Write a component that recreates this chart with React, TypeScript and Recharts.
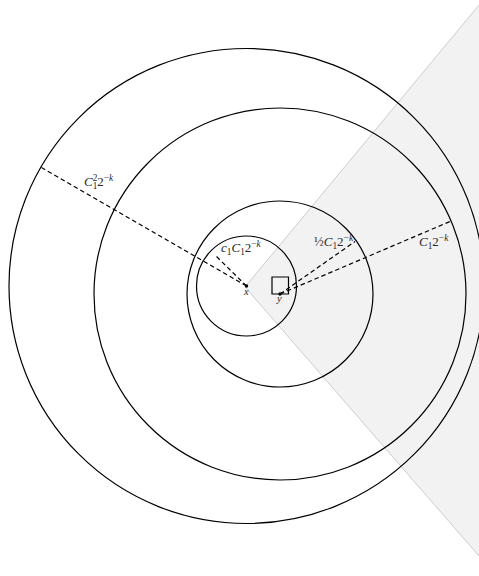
import React from 'react';
import {
  ComposedChart,
  Area,
  Scatter,
  XAxis,
  YAxis,
  ReferenceLine,
  ReferenceArea,
} from 'recharts';

// chart box, data units are 1:1 with pixels
const W = 479;
const H = 576;

// points x and y
const pointX = { x: 246.5, y: 286 };
const pointY = { x: 280, y: 294 };

// shaded cone from x
const cone = [
  { x: 245, band: [287, 287] },
  { x: 479, band: [5, 556] },
];

// balls: center + radius
const balls = [
  { x: pointX.x, y: pointX.y, r: 50 },
  { x: pointY.x, y: pointY.y, r: 93 },
  { x: pointY.x, y: pointY.y, r: 186 },
  { x: pointX.x, y: pointX.y, r: 237.5 },
];

// dashed radii
const radii = [
  { from: pointX, to: { x: 41.5, y: 167.5 } },
  { from: pointX, to: { x: 216, y: 256 } },
  { from: pointY, to: { x: 355, y: 241.5 } },
  { from: pointY, to: { x: 450, y: 221.5 } },
];

// small cube at y
const cube = { x1: 272, x2: 288.5, y1: 277, y2: 294 };

type Piece = { t: string; it?: boolean; pos?: 'sub' | 'sup'; back?: boolean };

const C1: Piece[] = [{ t: 'C', it: true }, { t: '1', pos: 'sub' }];
const TWO_K: Piece[] = [{ t: '2' }, { t: '\u2212', pos: 'sup' }, { t: 'k', it: true, pos: 'sup' }];

const labels = [
  {
    x: 84,
    y: 186,
    pieces: [{ t: 'C', it: true }, { t: '1', pos: 'sub' }, { t: '2', pos: 'sup', back: true }, ...TWO_K] as Piece[],
  },
  { x: 221, y: 252, pieces: [{ t: 'c', it: true }, { t: '1', pos: 'sub' }, ...C1, ...TWO_K] as Piece[] },
  { x: 314, y: 246, pieces: [{ t: '\u00BD' }, ...C1, ...TWO_K] as Piece[] },
  { x: 419, y: 246, pieces: [...C1, ...TWO_K] as Piece[] },
  { x: 244, y: 295, pieces: [{ t: 'x', it: true }] as Piece[], small: true },
  { x: 277, y: 302, pieces: [{ t: 'y', it: true }] as Piece[], small: true },
];

const FONT = '"Liberation Serif", "DejaVu Serif", serif';
const SIZE = 13;

function MathText({ x, y, pieces, size }: { x: number; y: number; pieces: Piece[]; size: number }) {
  let level = 0;
  const spans = pieces.map((p, i) => {
    const target = p.pos === 'sub' ? size * 0.25 : p.pos === 'sup' ? -size * 0.42 : 0;
    const dy = target - level;
    level = target;
    const fs = p.pos ? size * 0.72 : size;
    return (
      <tspan
        key={i}
        dy={dy}
        dx={p.back ? -size * 0.72 * 0.5 : 0}
        style={{ fontSize: fs, fontStyle: p.it ? 'italic' : 'normal' }}
      >
        {p.t}
      </tspan>
    );
  });
  return (
    <text x={x} y={y} fill="#2a2a2a" style={{ fontFamily: FONT, fontSize: size }}>
      {spans}
    </text>
  );
}

const pxPerUnit = W / W;

export default function App() {
  return (
    <div style={{ position: 'absolute', left: 0, top: 0, width: W, height: H, background: '#fff' }}>
      <ComposedChart width={W} height={H} data={cone} margin={{ top: 0, right: 0, bottom: 0, left: 0 }}>
        <XAxis type="number" dataKey="x" domain={[0, W]} allowDataOverflow hide />
        <YAxis type="number" dataKey="y" domain={[0, H]} reversed allowDataOverflow hide />
        <Area
          type="linear"
          dataKey="band"
          stroke="#cccccc"
          strokeWidth={1}
          fill="#f2f2f2"
          fillOpacity={1}
          isAnimationActive={false}
          dot={false}
          activeDot={false}
        />
        <Scatter
          data={balls}
          isAnimationActive={false}
          shape={(p: any) => (
            <circle cx={p.cx} cy={p.cy} r={p.payload.r * pxPerUnit} fill="none" stroke="#000" strokeWidth={1.2} />
          )}
        />
        {radii.map((s, i) => (
          <ReferenceLine
            key={i}
            segment={[s.from, s.to]}
            stroke="#000"
            strokeWidth={1.2}
            strokeDasharray="4.5 3"
            ifOverflow="visible"
          />
        ))}
        <ReferenceArea
          x1={cube.x1}
          x2={cube.x2}
          y1={cube.y1}
          y2={cube.y2}
          fill="none"
          fillOpacity={0}
          stroke="#000"
          strokeWidth={1.2}
          ifOverflow="visible"
        />
        <Scatter
          data={[pointX, pointY]}
          isAnimationActive={false}
          shape={(p: any) => <circle cx={p.cx} cy={p.cy} r={1.7} fill="#000" />}
        />
        <Scatter
          data={labels}
          isAnimationActive={false}
          shape={(p: any) => (
            <MathText x={p.cx} y={p.cy} pieces={p.payload.pieces} size={p.payload.small ? 10.5 : SIZE} />
          )}
        />
      </ComposedChart>
    </div>
  );
}
